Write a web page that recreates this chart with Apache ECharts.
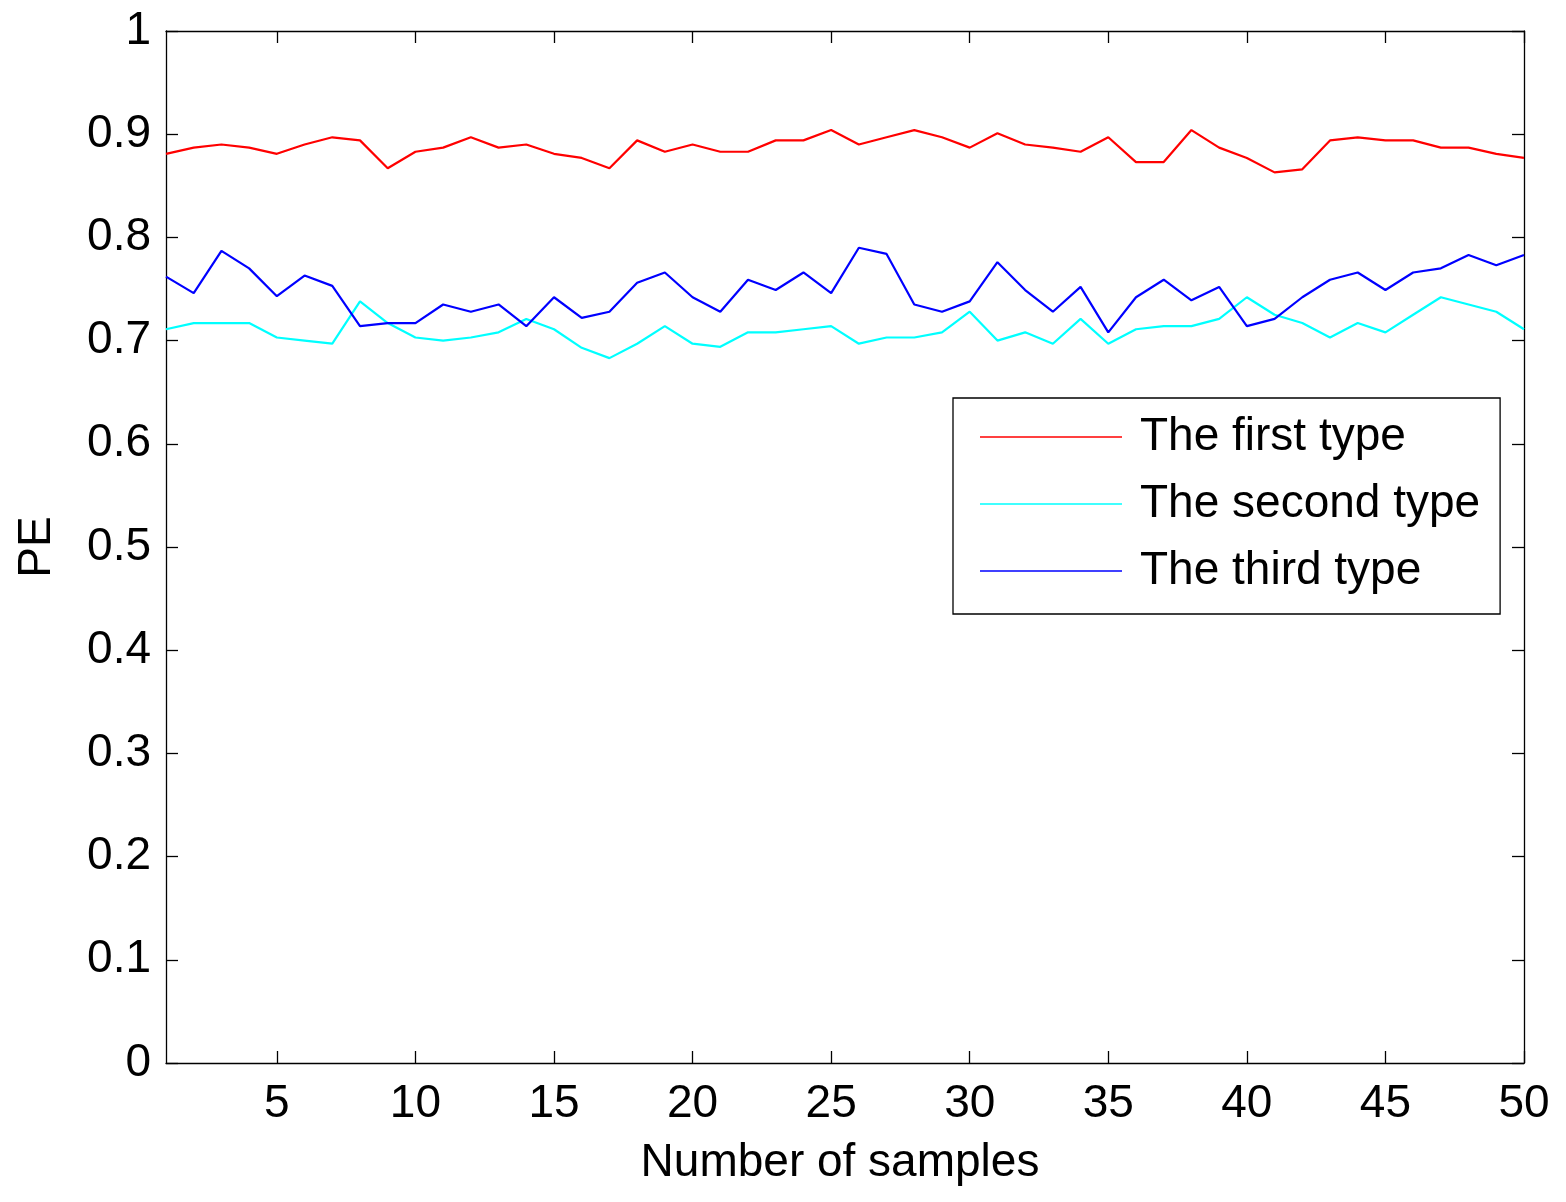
<!DOCTYPE html>
<html>
<head>
<meta charset="utf-8">
<script src="https://cdn.jsdelivr.net/npm/echarts@6/dist/echarts.min.js"></script>
<style>
  html, body { margin: 0; padding: 0; background: #fff; }
  #chart { width: 1566px; height: 1202px; }
</style>
</head>
<body>
<div id="chart"></div>
<script>
// sample index 1..50
const samples = Array.from({ length: 50 }, (_, i) => i + 1)

const firstType = [
  0.881, 0.887, 0.890, 0.887, 0.881, 0.890, 0.897, 0.894, 0.867, 0.883,
  0.887, 0.897, 0.887, 0.890, 0.881, 0.877, 0.867, 0.894, 0.883, 0.890,
  0.883, 0.883, 0.894, 0.894, 0.904, 0.890, 0.897, 0.904, 0.897, 0.887,
  0.901, 0.890, 0.887, 0.883, 0.897, 0.873, 0.873, 0.904, 0.887, 0.877,
  0.863, 0.866, 0.894, 0.897, 0.894, 0.894, 0.887, 0.887, 0.881, 0.877
]
const secondType = [
  0.711, 0.717, 0.717, 0.717, 0.703, 0.700, 0.697, 0.738, 0.717, 0.703,
  0.700, 0.703, 0.708, 0.721, 0.711, 0.693, 0.683, 0.697, 0.714, 0.697,
  0.694, 0.708, 0.708, 0.711, 0.714, 0.697, 0.703, 0.703, 0.708, 0.728,
  0.700, 0.708, 0.697, 0.721, 0.697, 0.711, 0.714, 0.714, 0.721, 0.742,
  0.725, 0.717, 0.703, 0.717, 0.708, 0.725, 0.742, 0.735, 0.728, 0.711
]
const thirdType = [
  0.762, 0.746, 0.787, 0.770, 0.743, 0.763, 0.753, 0.714, 0.717, 0.717,
  0.735, 0.728, 0.735, 0.714, 0.742, 0.722, 0.728, 0.756, 0.766, 0.742,
  0.728, 0.759, 0.749, 0.766, 0.746, 0.790, 0.784, 0.735, 0.728, 0.738,
  0.776, 0.749, 0.728, 0.752, 0.708, 0.742, 0.759, 0.739, 0.752, 0.714,
  0.721, 0.742, 0.759, 0.766, 0.749, 0.766, 0.770, 0.783, 0.773, 0.783
]

const xTicks = [5, 10, 15, 20, 25, 30, 35, 40, 45, 50]
const seriesNames = ['The first type', 'The second type', 'The third type']
const seriesColors = ['#ff0000', '#00ffff', '#0000ff']

const font = 'Liberation Sans, Arial, Helvetica, sans-serif'
const fontSize = 46
const axisLine = { show: true, onZero: false, lineStyle: { color: '#000', width: 1.3 } }
const tick = { show: true, inside: true, length: 12, lineStyle: { color: '#000', width: 1.3 } }

const toPairs = arr => arr.map((v, i) => [samples[i], v])

const chart = echarts.init(document.getElementById('chart'))

const option = {
  backgroundColor: '#fff',
  animation: false,
  grid: { left: 166, right: 42, top: 31, bottom: 139 },
  legend: {
    orient: 'vertical',
    left: 953,
    top: 398,
    padding: [16, 20, 20, 27],
    borderColor: '#000',
    borderWidth: 1.3,
    icon: 'rect',
    itemWidth: 142,
    itemHeight: 1.5,
    itemGap: 21,
    data: seriesNames,
    textStyle: { fontFamily: font, fontSize: fontSize, lineHeight: 46, color: '#000', padding: [0, 0, 0, 13] }
  },
  xAxis: [
    {
      type: 'value', min: 1, max: 50, position: 'bottom',
      name: 'Number of samples', nameLocation: 'middle', nameGap: 77,
      nameTextStyle: { fontFamily: font, fontSize: fontSize, color: '#000', padding: [0, 10, 0, 0] },
      axisLine: axisLine,
      axisTick: Object.assign({ customValues: xTicks }, tick),
      axisLabel: { customValues: xTicks, margin: 18, fontFamily: font, fontSize: fontSize, color: '#000' },
      splitLine: { show: false }
    },
    {
      type: 'value', min: 1, max: 50, position: 'top',
      axisLine: axisLine,
      axisTick: Object.assign({ customValues: xTicks }, tick),
      axisLabel: { show: false },
      splitLine: { show: false }
    }
  ],
  yAxis: [
    {
      type: 'value', min: 0, max: 1, interval: 0.1, position: 'left',
      name: 'PE', nameLocation: 'middle', nameGap: 106,
      nameTextStyle: { fontFamily: font, fontSize: fontSize, color: '#000' },
      axisLine: axisLine,
      axisTick: tick,
      axisLabel: { margin: 15, fontFamily: font, fontSize: fontSize, color: '#000',
        formatter: v => (Math.round(v * 10) / 10).toString() },
      splitLine: { show: false }
    },
    {
      type: 'value', min: 0, max: 1, interval: 0.1, position: 'right',
      axisLine: axisLine,
      axisTick: tick,
      axisLabel: { show: false },
      splitLine: { show: false }
    }
  ],
  series: [firstType, secondType, thirdType].map((d, i) => ({
    name: seriesNames[i],
    type: 'line',
    data: toPairs(d),
    symbol: 'none',
    color: seriesColors[i],
    lineStyle: { color: seriesColors[i], width: 2.2 }
  }))
}

chart.setOption(option)
</script>
</body>
</html>
